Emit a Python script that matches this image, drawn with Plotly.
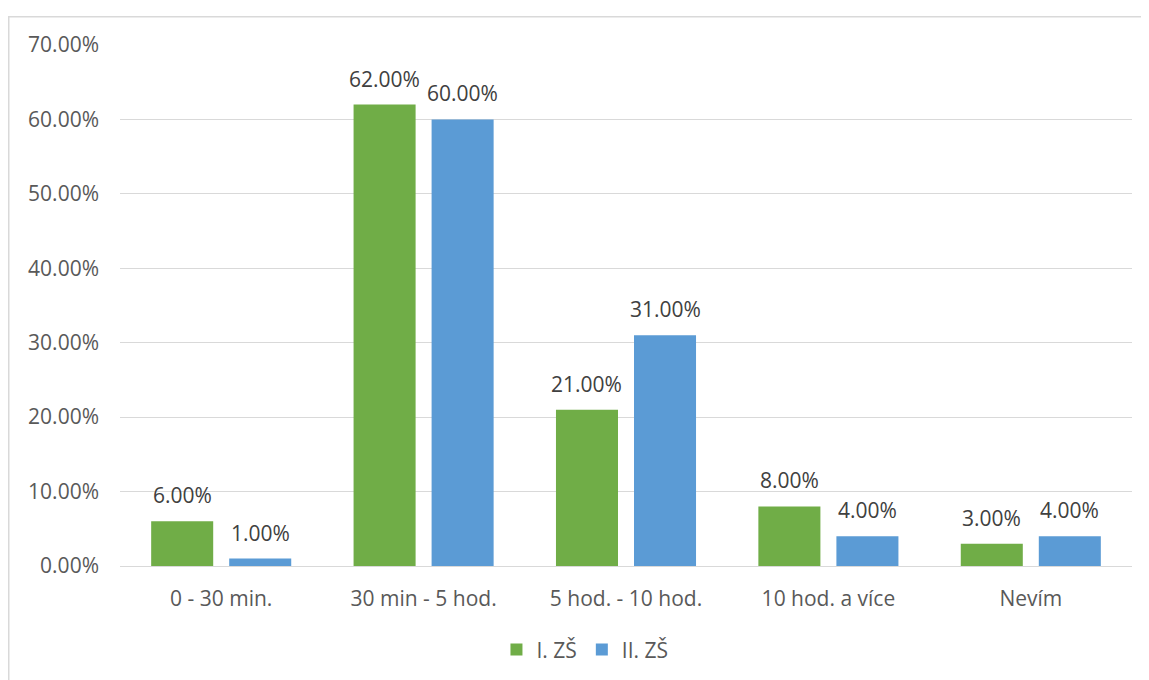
import plotly.graph_objects as go

categories = ["0 - 30 min.", "30 min - 5 hod.", "5 hod. - 10 hod.", "10 hod. a více", "Nevím"]
series_names = ["I. ZŠ", "II. ZŠ"]
values_zs1 = [6.0, 62.0, 21.0, 8.0, 3.0]
values_zs2 = [1.0, 60.0, 31.0, 4.0, 4.0]
tick_vals = [0, 10, 20, 30, 40, 50, 60, 70]
tick_text = ["0.00%", "10.00%", "20.00%", "30.00%", "40.00%", "50.00%", "60.00%", "70.00%"]

FONT = "Open Sans"
FS = 21
colors = ["#70AD47", "#5B9BD5"]

# page body has an 8px margin; figure coordinates below compensate
W, H = 1149, 680
L, R, T, B = 112, 25, 37, 122
PW, PH = W - L - R, H - T - B

BARGAP = 0.229
fig = go.Figure()
for name, vals, col in zip(series_names, [values_zs1, values_zs2], colors):
    fig.add_trace(go.Bar(
        x=categories, y=vals, name=name,
        marker=dict(color=col, line=dict(width=0)),
        cliponaxis=False,
    ))

# data labels placed above each bar
slot = PW / len(categories) * (1 - BARGAP) / 2
annotations = []
for i, vals in enumerate([values_zs1, values_zs2]):
    shift = (i - 0.5) * slot
    for c, v in zip(categories, vals):
        annotations.append(dict(
            x=c, y=v, xref="x", yref="y", text=f"{v:.2f}%",
            showarrow=False, xanchor="center", yanchor="bottom",
            xshift=shift, yshift=10,
            font=dict(family=FONT, size=FS, color="#404040"),
        ))

fig.update_layout(
    width=W, height=H,
    margin=dict(l=L, r=R, t=T, b=B),
    paper_bgcolor="white", plot_bgcolor="white",
    barmode="group", bargap=BARGAP, bargroupgap=0.205,
    font=dict(family=FONT, size=FS, color="#595959"),
    showlegend=True,
    legend=dict(orientation="h", x=0.372, xanchor="left", y=-0.161, yanchor="middle",
                font=dict(family=FONT, size=FS, color="#595959"),
                itemwidth=30, traceorder="normal"),
    xaxis=dict(showgrid=False, showline=True, linecolor="#D9D9D9", linewidth=1,
               ticks="", ticklabelstandoff=14, tickfont=dict(size=FS)),
    yaxis=dict(range=[0, 70], tickvals=tick_vals, ticktext=tick_text,
               showgrid=True, gridcolor="#D9D9D9", gridwidth=1,
               zeroline=False, showline=False, ticks="",
               ticklabelstandoff=20, tickfont=dict(size=FS)),
    annotations=annotations,
    shapes=[dict(type="rect", xref="paper", yref="paper",
                 x0=(0.75 - L) / PW, x1=(W + 20 - L) / PW,
                 y0=-(H + 20 - (H - B)) / PH, y1=(H - B - 8.75) / PH,
                 line=dict(color="#D9D9D9", width=1.5), fillcolor="rgba(0,0,0,0)",
                 layer="below")],
)

fig.write_html("out.html")
